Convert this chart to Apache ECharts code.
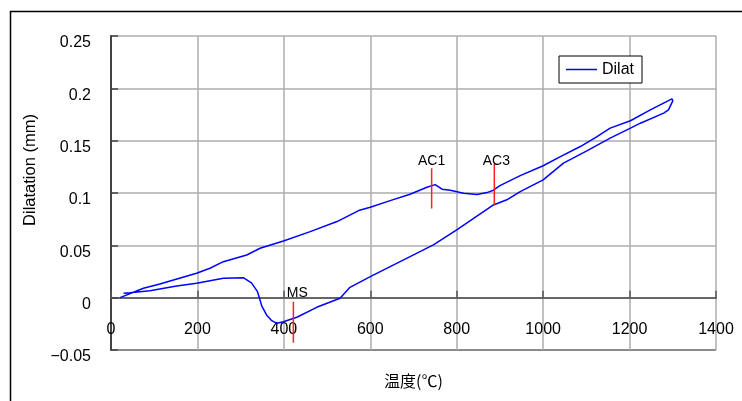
<!DOCTYPE html>
<html>
<head>
<meta charset="utf-8">
<script src="https://cdn.jsdelivr.net/npm/echarts@6/dist/echarts.min.js"></script>
<style>
html,body{margin:0;padding:0;background:#fff;}
#chart{width:742px;height:401px;}
</style>
</head>
<body>
<div id="chart"></div>
<script>
// ---- data ----
var heatT = [21, 75, 113, 198, 229, 260, 314, 345, 399, 461, 523, 573, 600, 646, 692, 731, 750, 766, 785, 816, 847, 870, 885, 900, 947, 1000, 1040, 1086, 1121, 1155, 1202, 1248, 1298, 1300];
var heatD = [0.0, 0.009, 0.0131, 0.0233, 0.0281, 0.0344, 0.0408, 0.0472, 0.0542, 0.0631, 0.0727, 0.0832, 0.0864, 0.0927, 0.0988, 0.1055, 0.108, 0.1036, 0.1027, 0.0998, 0.0985, 0.1004, 0.1027, 0.107, 0.1166, 0.126, 0.1348, 0.1444, 0.153, 0.162, 0.169, 0.1794, 0.19, 0.188];
var coolT = [1290, 1279, 1225, 1202, 1155, 1101, 1047, 1000, 947, 916, 885, 800, 746, 692, 646, 600, 553, 530, 476, 430, 399, 384, 372, 360, 349, 339, 325, 306, 260, 198, 152, 90, 44, 29];
var coolD = [0.1794, 0.1763, 0.1667, 0.162, 0.1524, 0.1402, 0.1285, 0.1125, 0.1013, 0.0935, 0.0886, 0.0647, 0.0504, 0.0392, 0.0296, 0.0201, 0.0099, -0.0006, -0.0092, -0.0187, -0.023, -0.0245, -0.022, -0.0165, -0.008, 0.0057, 0.0142, 0.0191, 0.0185, 0.0138, 0.0112, 0.0067, 0.0048, 0.0042];

var markerNames = ['MS', 'AC1', 'AC3'];
var markerT = [422, 742, 887];
var markerTop = [-0.004, 0.1237, 0.1278];
var markerBottom = [-0.043, 0.0851, 0.0886];

var xTicks = [0, 200, 400, 600, 800, 1000, 1200, 1400];
var xTickLabels = ['0', '200', '400', '600', '800', '1000', '1200', '1400'];
var yTicks = [-0.05, 0, 0.05, 0.1, 0.15, 0.2, 0.25];
var yTickLabels = ['\u22120.05', '0', '0.05', '0.1', '0.15', '0.2', '0.25'];

var seriesName = 'Dilat';
var xName = '温度(℃)';
var yName = 'Dilatation (mm)';

// ---- build ----
var curve = [];
heatT.forEach(function (t, i) { curve.push([t, heatD[i]]); });
coolT.forEach(function (t, i) { curve.push([t, coolD[i]]); });

var labelOffsets = [[4, 0], [0, 0], [2, 0]];
var labelDist = [2, 0, -4];

var LAT = '"Liberation Sans", Arial, sans-serif';

function nearestIdx(arr, v) {
  var best = 0, bd = Infinity;
  arr.forEach(function (a, i) { var d = Math.abs(a - v); if (d < bd) { bd = d; best = i; } });
  return best;
}

var series = [{
  name: seriesName,
  type: 'line',
  data: curve,
  symbol: 'none',
  smooth: false,
  lineStyle: { color: '#0000ff', width: 1.5 },
  itemStyle: { color: '#0000ff' },
  z: 3
}];

markerNames.forEach(function (nm, i) {
  series.push({
    name: nm,
    type: 'line',
    symbol: 'circle',
    symbolSize: 0,
    showSymbol: true,
    lineStyle: { color: '#ff2020', width: 1.5 },
    itemStyle: { color: '#ff2020' },
    z: 4,
    data: [
      { value: [markerT[i], markerTop[i]],
        label: { show: true, formatter: nm, position: 'top', distance: labelDist[i], offset: labelOffsets[i],
                 color: '#000', fontSize: 14, fontFamily: LAT } },
      { value: [markerT[i], markerBottom[i]] }
    ]
  });
});

var chart = echarts.init(document.getElementById('chart'), null, { renderer: 'canvas' });
chart.setOption({
  animation: false,
  backgroundColor: '#fff',
  textStyle: { fontFamily: LAT },
  graphic: [{
    type: 'rect', left: 8, top: 9, silent: true,
    shape: { width: 900, height: 600 },
    style: { fill: 'none', stroke: '#000', lineWidth: 1.5 },
    z: -10
  }],
  grid: { left: 111, right: 26, top: 36, bottom: 51, containLabel: false, outerBoundsMode: 'none' },
  legend: {
    data: [{ name: seriesName, icon: 'rect' }],
    left: 559, top: 56,
    orient: 'horizontal',
    backgroundColor: '#fff',
    borderColor: '#000', borderWidth: 1,
    padding: [5, 8, 5, 7],
    itemWidth: 31, itemHeight: 1.5,
    itemStyle: { color: '#0000ff' },
    textStyle: { fontSize: 16, color: '#000', fontFamily: LAT, lineHeight: 17 }
  },
  xAxis: {
    type: 'value',
    min: xTicks[0], max: xTicks[xTicks.length - 1], interval: 200,
    name: xName, nameLocation: 'middle', nameGap: 23,
    nameTextStyle: { fontSize: 16, color: '#000', fontFamily: '"Noto Sans CJK JP", sans-serif' },
    axisLine: { onZero: true, lineStyle: { color: '#666', width: 2 } },
    axisTick: { inside: true, length: 7, lineStyle: { color: '#555', width: 1.5 } },
    axisLabel: { margin: -28, fontSize: 16, color: '#000', fontFamily: LAT,
      formatter: function (v) { return xTickLabels[nearestIdx(xTicks, v)]; } },
    splitLine: { show: true, lineStyle: { color: '#acacac', width: 1.5 } }
  },
  yAxis: {
    type: 'value',
    min: yTicks[0], max: yTicks[yTicks.length - 1], interval: 0.05,
    name: yName, nameLocation: 'middle', nameGap: 72, nameRotate: 90,
    nameTextStyle: { fontSize: 16.5, color: '#000', fontFamily: LAT, padding: [0, 0, 0, 46] },
    axisLine: { onZero: false, lineStyle: { color: '#444', width: 2 } },
    axisTick: { inside: true, length: 7, lineStyle: { color: '#444', width: 1.5 } },
    axisLabel: { margin: 20, fontSize: 16, color: '#000', fontFamily: LAT,
      formatter: function (v) { return '{a|' + yTickLabels[nearestIdx(yTicks, v)] + '}'; },
      rich: { a: { fontSize: 16, color: '#000', fontFamily: LAT, padding: [14, 0, 0, 0] } } },
    splitLine: { show: true, lineStyle: { color: ['#666', '#666', '#acacac', '#acacac', '#acacac', '#acacac', '#acacac'], width: 1.5 } }
  },
  series: series
});
</script>
</body>
</html>
